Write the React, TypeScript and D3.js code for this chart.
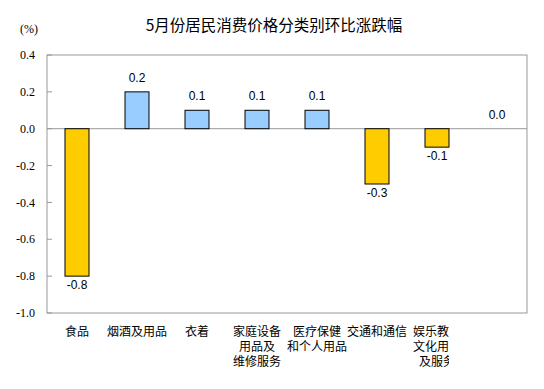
import React from "react";
import * as d3 from "d3";

const title = "5月份居民消费价格分类别环比涨跌幅";
const unitLabel = "(%)";

const categories = [
  "食品",
  "烟酒及用品",
  "衣着",
  "家庭设备用品及维修服务",
  "医疗保健和个人用品",
  "交通和通信",
  "娱乐教育文化用品及服务",
  "其他用品和服务",
];

// how each category name is broken into lines under the axis
const labelLines = [
  ["食品"],
  ["烟酒及用品"],
  ["衣着"],
  ["家庭设备", "用品及", "维修服务"],
  ["医疗保健", "和个人用品"],
  ["交通和通信"],
  ["娱乐教育", "文化用品", "及服务"],
  [],
];

const values = [-0.8, 0.2, 0.1, 0.1, 0.1, -0.3, -0.1, 0.0];

const yTicks = [0.4, 0.2, 0.0, -0.2, -0.4, -0.6, -0.8, -1.0];

const width = 544;
const height = 389;
const margin = { top: 55, right: 17, bottom: 76, left: 47 };

const cjk = "'Noto Sans CJK SC', sans-serif";
// latin font first keeps the line box tight, CJK glyphs fall back to Noto
const cjkTight = "'Liberation Sans', 'Noto Sans CJK SC', sans-serif";
const num = "'Liberation Sans', Arial, sans-serif";
const serif = "'Liberation Serif', 'Times New Roman', serif";

// plain hyphen for negatives, like the original
const fmt = d3.formatLocale({
  decimal: ".",
  thousands: ",",
  grouping: [3],
  currency: ["", ""],
  minus: "-",
}).format(".1f");

const App = () => {
  const innerW = width - margin.left - margin.right;
  const innerH = height - margin.top - margin.bottom;

  const x = d3.scaleBand<string>()
    .domain(categories)
    .range([0, innerW])
    .paddingInner(0.6)
    .paddingOuter(0.3);

  const y = d3.scaleLinear().domain([-1.0, 0.4]).range([innerH, 0]);

  // the 7th label gets cut off at its right side in the original
  const clippedCx = margin.left + x(categories[6])! + x.bandwidth() / 2;

  return (
    <svg
      width={width}
      height={height}
      style={{ position: "absolute", left: 0, top: 0, background: "#fff" }}
    >
      <defs>
        <clipPath id="lastLabelClip">
          <rect x={0} y={0} width={clippedCx + 12} height={height} />
        </clipPath>
      </defs>
      <text x={274} y={31} textAnchor="middle" fontFamily={cjk} fontSize={15.5} fill="#000">
        {title}
      </text>
      <text x={20} y={33} fontFamily={serif} fontSize={12} fill="#000">
        {unitLabel}
      </text>
      <g transform={`translate(${margin.left},${margin.top})`}>
        {/* plot frame */}
        <rect x={0} y={0} width={innerW} height={innerH} fill="none" stroke="#999" strokeWidth={1} />
        {yTicks.map((t) => (
          <g key={t}>
            <line x1={0} x2={5} y1={y(t)} y2={y(t)} stroke="#999" />
            <text
              x={-12}
              y={y(t)}
              dy="0.35em"
              textAnchor="end"
              fontFamily={serif}
              fontSize={12}
              fill="#000"
            >
              {fmt(t)}
            </text>
          </g>
        ))}
        <line x1={0} x2={innerW} y1={y(0)} y2={y(0)} stroke="#999" />
        {categories.map((c, i) => {
          const v = values[i];
          const bx = x(c)!;
          const top = y(Math.max(v, 0));
          const h = Math.abs(y(v) - y(0));
          const cx = bx + x.bandwidth() / 2;
          return (
            <g key={c}>
              {v !== 0 && (
                <rect
                  x={bx}
                  y={top}
                  width={x.bandwidth()}
                  height={h}
                  fill={v < 0 ? "#FFCC00" : "#99CCFF"}
                  stroke="#000"
                  strokeWidth={1}
                />
              )}
              <text
                x={cx}
                y={v < 0 ? y(v) + 13 : y(v) - 10}
                textAnchor="middle"
                fontFamily={num}
                fontSize={12}
                fill="#000"
              >
                {fmt(v)}
              </text>
            </g>
          );
        })}
      </g>
      {/* category labels */}
      <g>
        {categories.map((c, i) => {
          const cx = margin.left + x(c)! + x.bandwidth() / 2;
          return (
            <g key={c} clipPath={i === 6 ? "url(#lastLabelClip)" : undefined}>
              {labelLines[i].map((line, j) => (
                <text
                  key={j}
                  x={cx}
                  y={335.5 + j * 15.3}
                  textAnchor="middle"
                  fontFamily={cjkTight}
                  fontSize={12}
                  fill="#000"
                >
                  {line}
                </text>
              ))}
            </g>
          );
        })}
      </g>
    </svg>
  );
};

export default App;
